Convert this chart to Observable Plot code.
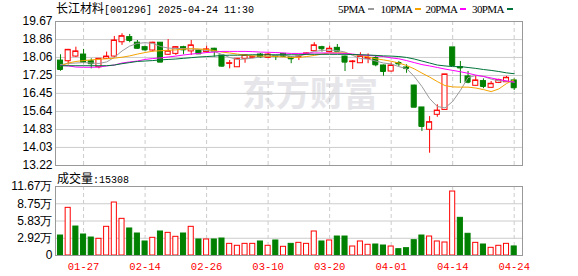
<!DOCTYPE html>
<html><head><meta charset="utf-8">
<script src="https://cdn.jsdelivr.net/npm/d3@7"></script>
<script src="https://cdn.jsdelivr.net/npm/@observablehq/plot@0.6"></script>
<style>
body{margin:0;background:#fff;}
#wrap{position:relative;width:578px;height:276px;overflow:hidden;background:#fff;}
.abs{position:absolute;white-space:pre;line-height:12px;color:#000;}
.cjk{font-family:"Noto Sans CJK SC";font-size:12px;}
.mono{font-family:"Liberation Mono";font-size:10px;}
svg{display:block;overflow:visible;}
</style></head><body>
<div id="wrap">
  <div id="price" class="abs" style="left:0;top:0"></div>
  <div id="vol" class="abs" style="left:0;top:172px"></div>
  <div id="title" class="abs" style="left:56px;top:2px"></div>
  <div id="legend"></div>
  <div id="vlabel" class="abs" style="left:57px;top:172px"></div>
</div>
<script>
// ---- data ----
const stockName = "长江材料";
const titleRest = "[001296] 2025-04-24 11:30";
const volLabelName = "成交量";
const volLabelValue = ":15308";

const dates = ["01-22","01-23","01-24","01-27","02-05","02-06","02-07","02-10","02-11","02-12",
"02-13","02-14","02-17","02-18","02-19","02-20","02-21","02-24","02-25","02-26",
"02-27","02-28","03-03","03-04","03-05","03-06","03-07","03-10","03-11","03-12",
"03-13","03-14","03-17","03-18","03-19","03-20","03-21","03-24","03-25","03-26",
"03-27","03-28","03-31","04-01","04-02","04-03","04-07","04-08","04-09","04-10",
"04-11","04-14","04-15","04-16","04-17","04-18","04-21","04-22","04-23","04-24"];

const open  = [17.92,17.89,18.10,18.19,17.89,17.62,18.00,18.10,18.74,18.97,
18.72,18.52,18.37,18.72,18.18,18.22,18.52,18.33,18.37,18.30,
18.45,18.15,17.78,17.62,18.00,18.06,18.19,18.04,18.12,18.22,
18.07,18.06,18.19,18.34,18.52,18.30,18.49,18.10,17.85,17.80,
18.00,18.03,17.70,17.43,17.81,17.61,16.80,15.82,14.82,15.49,
15.71,18.51,17.63,17.21,16.79,17.00,16.70,16.92,16.95,17.03];
const high  = [18.18,18.42,18.52,18.42,18.00,18.01,18.30,19.00,19.12,19.09,
18.82,18.56,18.74,18.73,18.86,18.55,18.56,18.82,18.42,18.56,
18.47,18.15,17.92,18.01,18.17,18.12,18.24,18.24,18.15,18.24,
18.10,18.13,18.26,18.72,18.56,18.56,18.64,18.12,17.92,18.27,
18.22,18.15,17.72,17.82,17.88,17.73,16.82,15.82,15.41,15.94,
17.30,18.51,17.88,17.43,17.25,17.10,16.98,17.09,17.21,17.10];
const low   = [17.44,17.72,18.06,17.78,17.55,17.55,17.97,18.06,18.60,18.72,
18.43,18.34,18.30,17.83,18.15,18.15,18.18,18.15,18.19,18.27,
18.07,17.62,17.55,17.61,17.80,18.00,18.01,18.01,17.92,18.08,
17.78,17.92,18.15,18.33,18.30,18.27,18.33,17.43,17.52,17.79,
17.78,17.64,17.22,17.41,17.65,17.35,15.82,14.74,13.77,15.38,
15.71,17.68,16.89,16.88,16.78,16.66,16.69,16.89,16.94,16.58];
const close = [17.52,18.40,18.33,17.85,17.78,18.00,18.10,18.82,19.01,18.82,
18.47,18.40,18.72,17.85,18.34,18.52,18.40,18.60,18.22,18.42,
18.34,17.67,17.80,18.00,18.15,18.07,18.08,18.19,18.10,18.11,
18.00,18.10,18.24,18.60,18.45,18.45,18.34,17.85,17.88,18.11,
18.04,17.73,17.43,17.70,17.77,17.56,15.83,14.97,15.16,15.68,
17.30,17.70,17.59,16.95,17.03,16.76,16.88,17.05,17.15,16.70];

const volume = [33800,80600,49000,35500,30400,28200,48500,89600,62000,45700,
37200,23700,29900,40600,38300,31600,37200,48500,27100,27100,
27100,28700,19700,16400,19700,19700,23700,16400,25400,14700,
19700,21400,19700,40600,23700,25400,32100,32100,15200,23700,
18100,18600,16900,15200,10700,12400,25900,33800,32100,23700,
22000,108200,63700,36700,21400,18600,13000,16400,19700,15308];
// volume bar colour as drawn: R = red hollow, G = green filled
const volColor = ["G","R","G","G","G","R","R","R","R","G",
"G","G","R","G","R","R","G","R","G","R",
"G","G","R","R","R","R","G","R","G","R",
"G","R","R","R","G","R","G","G","R","R",
"R","G","G","R","G","G","G","G","R","R",
"R","R","G","G","R","G","R","R","R","G"];

const ma5  = [17.74,17.79,17.81,17.83,17.81,17.79,17.86,18.06,18.35,18.57,
18.69,18.72,18.69,18.55,18.48,18.46,18.46,18.44,18.42,18.37,
18.33,18.19,18.06,17.97,17.99,18.03,18.08,18.10,18.15,18.17,
18.10,18.12,18.21,18.33,18.37,18.39,18.37,18.30,18.15,18.01,
17.99,17.90,17.81,17.77,17.65,17.56,17.21,16.76,16.22,15.86,
15.80,16.09,16.58,17.16,17.25,17.21,17.09,17.01,17.00,16.96];
const ma10 = [17.68,17.81,17.88,17.92,17.95,17.98,18.00,18.03,18.07,18.13,
18.21,18.28,18.34,18.36,18.38,18.40,18.43,18.45,18.44,18.42,
18.37,18.30,18.26,18.21,18.17,18.13,18.12,18.12,18.10,18.08,
18.06,18.06,18.10,18.15,18.21,18.26,18.27,18.26,18.19,18.15,
18.08,18.00,17.95,17.89,17.81,17.70,17.55,17.36,17.18,16.98,
16.80,16.74,16.73,16.73,16.69,16.62,16.53,16.65,16.89,17.06];
const ma20 = [17.70,17.68,17.63,17.62,17.62,17.63,17.68,17.72,17.81,17.86,
17.90,17.97,18.01,18.04,18.08,18.12,18.17,18.21,18.24,18.28,
18.30,18.33,18.33,18.33,18.33,18.32,18.30,18.29,18.28,18.26,
18.24,18.24,18.25,18.26,18.26,18.26,18.25,18.24,18.21,18.17,
18.15,18.13,18.10,18.04,18.00,17.92,17.83,17.74,17.68,17.61,
17.54,17.48,17.42,17.35,17.27,17.21,17.14,17.07,17.01,16.95];
const ma30 = [17.69,17.69,17.69,17.69,17.69,17.69,17.69,17.72,17.78,17.83,
17.88,17.90,17.92,17.95,17.97,17.99,18.02,18.05,18.08,18.10,
18.12,18.15,18.16,18.16,18.17,18.18,18.18,18.18,18.18,18.18,
18.18,18.18,18.20,18.20,18.20,18.20,18.20,18.20,18.19,18.18,
18.17,18.15,18.13,18.12,18.10,18.06,17.99,17.90,17.81,17.72,
17.68,17.65,17.65,17.61,17.57,17.52,17.48,17.43,17.37,17.33];

const maNames  = ["5PMA","10PMA","20PMA","30PMA"];
const maColors = ["#9a9a9a","#f5a300","#ff00ff","#00733a"];

const priceTicks  = [13.22,14.03,14.83,15.64,16.45,17.25,18.06,18.86,19.67];
const priceLabels = ["13.22","14.03","14.83","15.64","16.45","17.25","18.06","18.86","19.67"];
const volTicks    = [0,29175,58350,87525,116700];
const volLabels   = ["0","2.92万","5.83万","8.75万","11.67万"];
const dateTickIdx = [3,11,19,27,35,43,51,59];

// ---- build ----
const RED = "#ff0000", GREEN = "#008000";
const rows = dates.map((d,i)=>({i, date:d, o:open[i], h:high[i], l:low[i], c:close[i], v:volume[i],
  up: close[i] >= open[i], vup: volColor[i] === "R",
  ma5:ma5[i], ma10:ma10[i], ma20:ma20[i], ma30:ma30[i]}));
const priceLabelMap = new Map(priceTicks.map((t,k)=>[t, priceLabels[k]]));
const volLabelMap = new Map(volTicks.map((t,k)=>[t, volLabels[k]]));
const xDomain = [-0.65, 60.08];
const W = 0.33;
const maKeys = ["ma5","ma10","ma20","ma30"];

const priceChart = Plot.plot({
  width:578, height:172, marginLeft:55, marginRight:56, marginTop:21, marginBottom:7,
  style:{fontFamily:"Liberation Sans", fontSize:"12px", background:"transparent", color:"#000", overflow:"visible"},
  x:{type:"linear", domain:xDomain, axis:null},
  y:{type:"linear", domain:[13.22,19.67]},
  marks:[
    Plot.text(["东方财富"], {frameAnchor:"middle", dx:21, dy:2, fontSize:34, fontWeight:"bold", fill:"#e6e6ea", fontFamily:"Noto Sans CJK SC"}),
    Plot.ruleY(priceTicks, {stroke:"#cccccc"}),
    Plot.ruleX(dateTickIdx, {stroke:"#cccccc", strokeDasharray:"4,3"}),
    Plot.axisY({ticks:priceTicks, tickFormat:d=>priceLabelMap.get(d), tickSize:0, tickPadding:3, fontSize:12, label:null}),
    Plot.frame({stroke:"#999"}),
    Plot.ruleX(rows, {x:"i", y1:"l", y2:"h", stroke:d=>d.up?RED:GREEN}),
    Plot.rect(rows, {x1:d=>d.i-W, x2:d=>d.i+W, y1:"o", y2:"c", fill:d=>d.up?"#ffffff":GREEN, stroke:d=>d.up?RED:GREEN}),
    Plot.ruleY(rows, {x1:d=>d.i-W, x2:d=>d.i+W, y:"c", stroke:d=>d.up?RED:GREEN}),
    ...maKeys.map((k,j)=>Plot.line(rows, {x:"i", y:k, stroke:maColors[j], strokeWidth:1}))
  ]
});
document.getElementById("price").appendChild(priceChart);

const volChart = Plot.plot({
  width:578, height:104, marginLeft:55, marginRight:56, marginTop:14, marginBottom:21,
  style:{fontFamily:"Liberation Sans", fontSize:"12px", background:"transparent", color:"#000", overflow:"visible"},
  x:{type:"linear", domain:xDomain},
  y:{type:"linear", domain:[0,116700]},
  marks:[
    Plot.ruleY(volTicks, {stroke:"#cccccc"}),
    Plot.ruleX(dateTickIdx, {stroke:"#cccccc", strokeDasharray:"4,3"}),
    Plot.axisY({ticks:volTicks, tickFormat:d=>volLabelMap.get(d), tickSize:0, tickPadding:3, fontSize:12, label:null}),
    Plot.axisX({ticks:dateTickIdx, tickFormat:d=>dates[d], tickSize:0, tickPadding:7, fill:RED, fontFamily:"Liberation Mono", fontSize:10.5, label:null}),
    Plot.rect(rows, {x1:d=>d.i-W, x2:d=>d.i+W, y1:0, y2:"v", fill:d=>d.vup?"#ffffff":GREEN, stroke:d=>d.vup?RED:GREEN}),
    Plot.frame({stroke:"#999"})
  ]
});
document.getElementById("vol").appendChild(volChart);

// title / labels
const t = document.getElementById("title");
t.innerHTML = `<span class="cjk"></span><span class="mono"></span>`;
t.children[0].textContent = stockName;
t.children[1].textContent = titleRest;
const vl = document.getElementById("vlabel");
vl.innerHTML = `<span class="cjk"></span><span class="mono"></span>`;
vl.children[0].textContent = volLabelName;
vl.children[1].textContent = volLabelValue;

// legend
const legendX = [338, 380.5, 425.5, 472];
const lg = document.getElementById("legend");
maNames.forEach((n,j)=>{
  const item = document.createElement("div");
  item.className = "abs";
  item.style.left = legendX[j] + "px";
  item.style.top = "3px";
  item.style.display = "flex";
  item.style.alignItems = "center";
  const s = document.createElement("span");
  s.style.fontFamily = "Liberation Serif";
  s.style.fontSize = "11px";
  s.style.letterSpacing = "-0.6px";
  s.textContent = n;
  const sw = document.createElement("span");
  sw.style.display = "inline-block";
  sw.style.width = "6px"; sw.style.height = "2px";
  sw.style.marginLeft = "3px";
  sw.style.background = maColors[j];
  item.appendChild(s); item.appendChild(sw);
  lg.appendChild(item);
});
</script>
</body></html>
